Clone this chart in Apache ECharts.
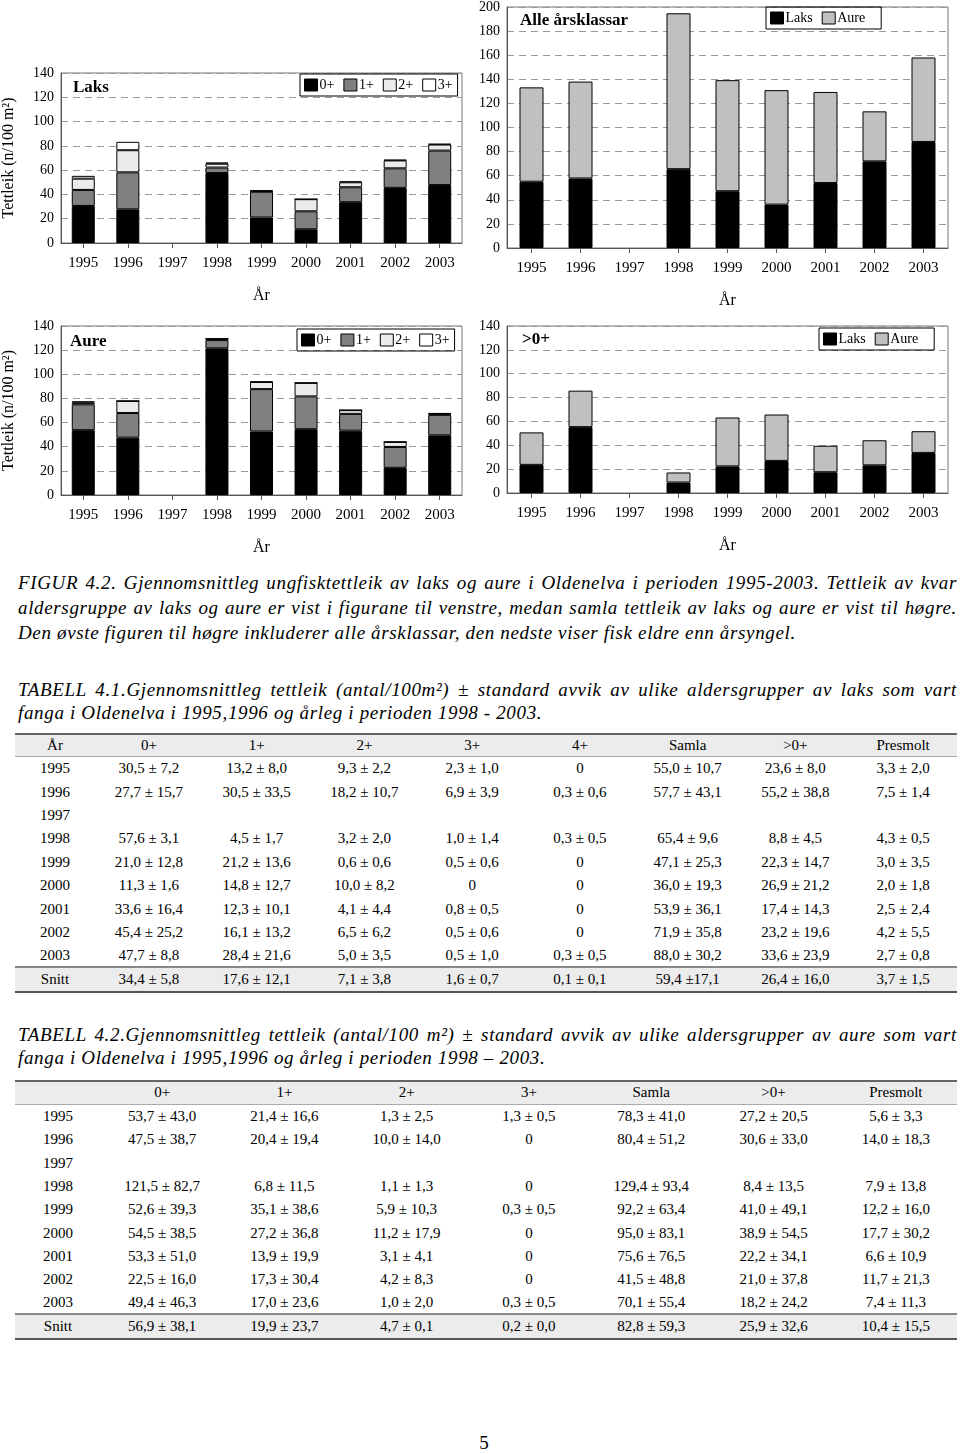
<!DOCTYPE html>
<html>
<head>
<meta charset="utf-8">
<script src="https://cdn.jsdelivr.net/npm/echarts@6/dist/echarts.min.js"></script>
<style>
  html, body { margin:0; padding:0; background:#fff; }
  body { width:960px; height:1454px; position:relative; overflow:hidden; font-family:"Liberation Serif","Times New Roman",serif; color:#000; }
  #chart { position:absolute; left:0; top:0; width:960px; height:570px; }
  .cap { position:absolute; left:18px; width:939px; font-style:italic; font-size:19px; letter-spacing:0.65px; }
  .cap div { white-space:nowrap; }
  .cap .j { text-align:justify; text-align-last:justify; white-space:normal; }
  table.t { position:absolute; left:15px; width:942px; border-collapse:collapse; font-size:15px; table-layout:fixed; }
  table.t td { text-align:center; padding:0; white-space:nowrap; }
  table.t tr.d td { padding-top:2px; }
  table.t tr.h td { background:#ececec; border-top:2px solid #666; border-bottom:1px solid #aaa; }
  table.t tr.s td { background:#ececec; border-top:2px solid #888; border-bottom:2px solid #555; }
  #pnum { position:absolute; left:0; width:968px; text-align:center; top:1432px; font-size:19px; }
</style>
</head>
<body>
<div id="chart"></div>

<div class="cap" style="top:570px; line-height:25px;">
  <div class="j" id="fc1"></div>
  <div class="j" id="fc2"></div>
  <div id="fc3"></div>
</div>
<div class="cap" style="top:678px; line-height:23px;">
  <div class="j" id="t1c1"></div>
  <div id="t1c2"></div>
</div>
<table class="t" id="tab1" style="top:733px;"></table>
<div class="cap" style="top:1023px; line-height:23px;">
  <div class="j" id="t2c1"></div>
  <div id="t2c2"></div>
</div>
<table class="t" id="tab2" style="top:1080px;"></table>
<div id="pnum">5</div>

<script>
// ---------- chart data ----------
const years = ['1995','1996','1997','1998','1999','2000','2001','2002','2003'];
// Laks, density per age group
const laks0 = [30.5, 27.7, null, 57.6, 21.0, 11.3, 33.6, 45.4, 47.7];
const laks1 = [13.2, 30.5, null, 4.5, 21.2, 14.8, 12.3, 16.1, 28.4];
const laks2 = [9.3, 18.2, null, 3.2, 0.6, 10.0, 4.1, 6.5, 5.0];
const laks3 = [2.3, 6.9, null, 1.0, 0.5, 0, 0.8, 0.5, 0.5];
// Aure, density per age group
const aure0 = [53.7, 47.5, null, 121.5, 52.6, 54.5, 53.3, 22.5, 49.4];
const aure1 = [21.4, 20.4, null, 6.8, 35.1, 27.2, 13.9, 17.3, 17.0];
const aure2 = [1.3, 10.0, null, 1.1, 5.9, 11.2, 3.1, 4.2, 1.0];
const aure3 = [1.3, 0, null, 0, 0.3, 0, 0, 0, 0.3];
// All year classes
const laksAll = [55.0, 57.7, null, 65.4, 47.1, 36.0, 53.9, 71.9, 88.0];
const aureAll = [78.3, 80.4, null, 129.4, 92.2, 95.0, 75.6, 41.5, 70.1];
// Older than 0+
const laksGt0 = [23.6, 55.2, null, 8.8, 22.3, 26.9, 17.4, 23.2, 33.6];
const aureGt0 = [27.2, 30.6, null, 8.4, 41.0, 38.9, 22.2, 21.0, 18.2];

const ageNames = ['0+','1+','2+','3+'];
const speciesNames = ['Laks','Aure'];
const yTitle = 'Tettleik (n/100 m²)';
const xTitle = 'År';

// ---------- text ----------
const figCaption = [
  'FIGUR 4.2. Gjennomsnittleg ungfisktettleik av laks og aure i Oldenelva i perioden 1995-2003. Tettleik av kvar',
  'aldersgruppe av laks og aure er vist i figurane til venstre, medan samla tettleik av laks og aure er vist til høgre.',
  'Den øvste figuren til høgre inkluderer alle årsklassar, den nedste viser fisk eldre enn årsyngel.'
];
const tab1Caption = [
  'TABELL 4.1.Gjennomsnittleg tettleik (antal/100m²) ± standard avvik av ulike aldersgrupper av laks som vart',
  'fanga i Oldenelva i 1995,1996 og årleg i perioden 1998 - 2003.'
];
const tab2Caption = [
  'TABELL 4.2.Gjennomsnittleg tettleik (antal/100 m²) ± standard avvik av ulike aldersgrupper av aure som vart',
  'fanga i Oldenelva i 1995,1996 og årleg i perioden 1998 – 2003.'
];

// ---------- table data ----------
const tab1Header = ['År','0+','1+','2+','3+','4+','Samla','>0+','Presmolt'];
const tab1Rows = [
  ['1995','30,5 ± 7,2','13,2 ± 8,0','9,3 ± 2,2','2,3 ± 1,0','0','55,0 ± 10,7','23,6 ± 8,0','3,3 ± 2,0'],
  ['1996','27,7 ± 15,7','30,5 ± 33,5','18,2 ± 10,7','6,9 ± 3,9','0,3 ± 0,6','57,7 ± 43,1','55,2 ± 38,8','7,5 ± 1,4'],
  ['1997','','','','','','','',''],
  ['1998','57,6 ± 3,1','4,5 ± 1,7','3,2 ± 2,0','1,0 ± 1,4','0,3 ± 0,5','65,4 ± 9,6','8,8 ± 4,5','4,3 ± 0,5'],
  ['1999','21,0 ± 12,8','21,2 ± 13,6','0,6 ± 0,6','0,5 ± 0,6','0','47,1 ± 25,3','22,3 ± 14,7','3,0 ± 3,5'],
  ['2000','11,3 ± 1,6','14,8 ± 12,7','10,0 ± 8,2','0','0','36,0 ± 19,3','26,9 ± 21,2','2,0 ± 1,8'],
  ['2001','33,6 ± 16,4','12,3 ± 10,1','4,1 ± 4,4','0,8 ± 0,5','0','53,9 ± 36,1','17,4 ± 14,3','2,5 ± 2,4'],
  ['2002','45,4 ± 25,2','16,1 ± 13,2','6,5 ± 6,2','0,5 ± 0,6','0','71,9 ± 35,8','23,2 ± 19,6','4,2 ± 5,5'],
  ['2003','47,7 ± 8,8','28,4 ± 21,6','5,0 ± 3,5','0,5 ± 1,0','0,3 ± 0,5','88,0 ± 30,2','33,6 ± 23,9','2,7 ± 0,8']
];
const tab1Mean = ['Snitt','34,4 ± 5,8','17,6 ± 12,1','7,1 ± 3,8','1,6 ± 0,7','0,1 ± 0,1','59,4 ±17,1','26,4 ± 16,0','3,7 ± 1,5'];

const tab2Header = ['','0+','1+','2+','3+','Samla','>0+','Presmolt'];
const tab2Rows = [
  ['1995','53,7 ± 43,0','21,4 ± 16,6','1,3 ± 2,5','1,3 ± 0,5','78,3 ± 41,0','27,2 ± 20,5','5,6 ± 3,3'],
  ['1996','47,5 ± 38,7','20,4 ± 19,4','10,0 ± 14,0','0','80,4 ± 51,2','30,6 ± 33,0','14,0 ± 18,3'],
  ['1997','','','','','','',''],
  ['1998','121,5 ± 82,7','6,8 ± 11,5','1,1 ± 1,3','0','129,4 ± 93,4','8,4 ± 13,5','7,9 ± 13,8'],
  ['1999','52,6 ± 39,3','35,1 ± 38,6','5,9 ± 10,3','0,3 ± 0,5','92,2 ± 63,4','41,0 ± 49,1','12,2 ± 16,0'],
  ['2000','54,5 ± 38,5','27,2 ± 36,8','11,2 ± 17,9','0','95,0 ± 83,1','38,9 ± 54,5','17,7 ± 30,2'],
  ['2001','53,3 ± 51,0','13,9 ± 19,9','3,1 ± 4,1','0','75,6 ± 76,5','22,2 ± 34,1','6,6 ± 10,9'],
  ['2002','22,5 ± 16,0','17,3 ± 30,4','4,2 ± 8,3','0','41,5 ± 48,8','21,0 ± 37,8','11,7 ± 21,3'],
  ['2003','49,4 ± 46,3','17,0 ± 23,6','1,0 ± 2,0','0,3 ± 0,5','70,1 ± 55,4','18,2 ± 24,2','7,4 ± 11,3']
];
const tab2Mean = ['Snitt','56,9 ± 38,1','19,9 ± 23,7','4,7 ± 0,1','0,2 ± 0,0','82,8 ± 59,3','25,9 ± 32,6','10,4 ± 15,5'];

// ---------- build text + tables ----------
document.getElementById('fc1').textContent = figCaption[0];
document.getElementById('fc2').textContent = figCaption[1];
document.getElementById('fc3').textContent = figCaption[2];
document.getElementById('t1c1').textContent = tab1Caption[0];
document.getElementById('t1c2').textContent = tab1Caption[1];
document.getElementById('t2c1').textContent = tab2Caption[0];
document.getElementById('t2c2').textContent = tab2Caption[1];

function esc(s) { return s.replace(/&/g, '&amp;').replace(/</g, '&lt;').replace(/>/g, '&gt;'); }
function buildTable(id, header, rows, mean, firstW, hH, rH, sH) {
  const t = document.getElementById(id);
  const n = header.length;
  const other = (942 - firstW) / (n - 1);
  let html = '<colgroup><col style="width:' + firstW + 'px">';
  for (let i = 1; i < n; i++) html += '<col style="width:' + other + 'px">';
  html += '</colgroup>';
  html += '<tr class="h" style="height:' + hH + 'px">' + header.map(c => '<td>' + esc(c) + '</td>').join('') + '</tr>';
  rows.forEach(r => {
    html += '<tr class="d" style="height:' + rH + 'px">' + r.map(c => '<td>' + esc(c) + '</td>').join('') + '</tr>';
  });
  html += '<tr class="s" style="height:' + sH + 'px">' + mean.map(c => '<td>' + esc(c) + '</td>').join('') + '</tr>';
  t.innerHTML = html;
}
buildTable('tab1', tab1Header, tab1Rows, tab1Mean, 80, 22, 23.4, 25);
buildTable('tab2', tab2Header, tab2Rows, tab2Mean, 86, 23, 23.3, 25);

// ---------- chart ----------
const serif = '"Liberation Serif", "Times New Roman", serif';
const ageColors = ['#000000', '#808080', '#ebebeb', '#ffffff'];
const spColors = ['#000000', '#c0c0c0'];

const grids = [
  { left: 60, top: 73, width: 402, height: 170 },   // Laks
  { left: 507, top: 5, width: 441, height: 243 },   // Alle
  { left: 60, top: 326, width: 402, height: 169 },  // Aure
  { left: 507, top: 326, width: 441, height: 167 }  // >0+
].map(g => Object.assign({ show: true, borderColor: '#777', borderWidth: 1, backgroundColor: '#fff' }, g));

function xAx(i) {
  return {
    type: 'category', gridIndex: i, data: years,
    axisLine: { lineStyle: { color: '#555' } },
    axisTick: { show: true, alignWithLabel: true, length: 5, lineStyle: { color: '#555' } },
    axisLabel: { color: '#000', fontSize: 15, fontFamily: serif, margin: 13 },
    name: xTitle, nameLocation: 'middle', nameGap: 45,
    nameTextStyle: { color: '#000', fontSize: 16, fontFamily: serif }
  };
}
function yAx(i, max, withName) {
  const a = {
    type: 'value', gridIndex: i, min: 0, max: max, interval: 20,
    axisLine: { show: true, lineStyle: { color: '#555' } },
    axisTick: { show: false },
    axisLabel: { color: '#000', fontSize: 14, fontFamily: serif, margin: 7 },
    splitLine: { show: true, lineStyle: { color: '#999', type: [7, 5], width: 1 } }
  };
  if (withName) {
    a.name = yTitle; a.nameLocation = 'middle'; a.nameGap = 44;
    a.nameTextStyle = { color: '#000', fontSize: 16, fontFamily: serif };
  }
  return a;
}

function bars(names, datas, colors, idx, stack, bw) {
  return names.map((n, k) => ({
    name: n, type: 'bar', stack: stack, xAxisIndex: idx, yAxisIndex: idx,
    data: datas[k], barWidth: bw,
    itemStyle: { color: colors[k], borderColor: '#000', borderWidth: 1 },
    emphasis: { disabled: true }
  }));
}

function legend(names, left, top, padR, gap) {
  return {
    data: names, left: left, top: top, orient: 'horizontal',
    borderColor: '#000', borderWidth: 1, padding: [4, padR, 4, 4],
    itemWidth: 13, itemHeight: 12, itemGap: gap, icon: 'rect',
    itemStyle: { borderColor: '#000', borderWidth: 1 },
    textStyle: { color: '#000', fontSize: 14, fontFamily: serif, padding: [0, 0, 0, -3] },
    selectedMode: false
  };
}

const titleStyle = { color: '#000', fontSize: 17, fontWeight: 'bold', fontFamily: serif };

const option = {
  animation: false,
  textStyle: { fontFamily: serif },
  title: [
    { text: 'Laks', left: 73, top: 79, padding: 0, textStyle: titleStyle },
    { text: 'Alle årsklassar', left: 520, top: 12, padding: 0, textStyle: titleStyle },
    { text: 'Aure', left: 70, top: 333, padding: 0, textStyle: titleStyle },
    { text: '>0+', left: 522, top: 331, padding: 0, textStyle: titleStyle }
  ],
  legend: [
    legend(ageNames, 300, 74, 5, 9),
    legend(speciesNames, 766, 7, 16, 9),
    legend(ageNames, 297, 329, 5, 9),
    legend(speciesNames, 819, 328, 16, 9)
  ],
  grid: grids,
  xAxis: [xAx(0), xAx(1), xAx(2), xAx(3)],
  yAxis: [yAx(0, 140, true), yAx(1, 200, false), yAx(2, 140, true), yAx(3, 140, false)],
  series: [].concat(
    bars(ageNames, [laks0, laks1, laks2, laks3], ageColors, 0, 'laks', 23),
    bars(speciesNames, [laksAll, aureAll], spColors, 1, 'alle', 24),
    bars(ageNames, [aure0, aure1, aure2, aure3], ageColors, 2, 'aure', 23),
    bars(speciesNames, [laksGt0, aureGt0], spColors, 3, 'gt0', 24)
  )
};

const chart = echarts.init(document.getElementById('chart'), null, { renderer: 'canvas' });
chart.setOption(option);
</script>
</body>
</html>
